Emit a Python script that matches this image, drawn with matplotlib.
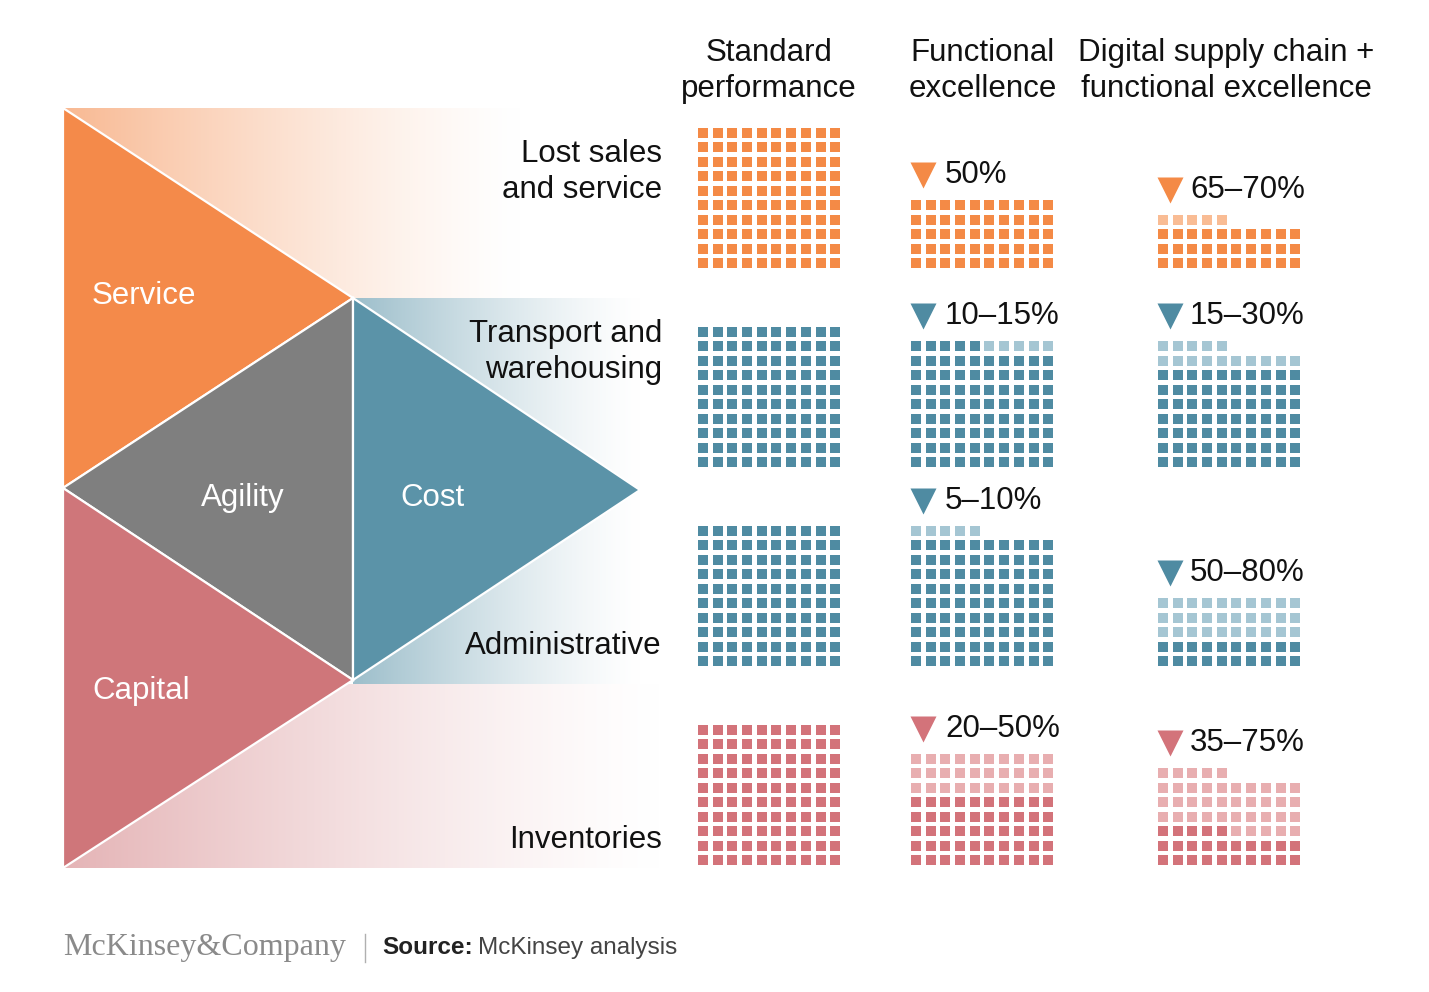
import numpy as np
import matplotlib
matplotlib.use("Agg")
import matplotlib.pyplot as plt
from matplotlib.patches import Polygon, Rectangle
from matplotlib.colors import to_rgb

# ---------------- data ----------------
categories = ["Lost sales\nand service", "Transport and\nwarehousing", "Administrative", "Inventories"]
column_headers = ["Standard\nperformance", "Functional\nexcellence", "Digital supply chain +\nfunctional excellence"]
standard_cells = [100, 100, 100, 100]
functional_low = [50, 10, 5, 20]     # reduction, % (low end)
functional_high = [50, 15, 10, 50]   # reduction, % (high end)
digital_low = [65, 15, 50, 35]
digital_high = [70, 30, 80, 75]
functional_labels = ["50%", "10–15%", "5–10%", "20–50%"]
digital_labels = ["65–70%", "15–30%", "50–80%", "35–75%"]
dimensions = ["Service", "Agility", "Cost", "Capital"]

# ---------------- style ----------------
ORANGE = "#F48A46"; ORANGE_L = "#F9BC94"
BLUE = "#4F8BA2"; BLUE_L = "#A5C6D3"
PINK = "#D3737A"; PINK_L = "#E8AEB0"
TRI_ORANGE = "#F48A4A"; TRI_GREY = "#7F7F7F"; TRI_BLUE = "#5B93A8"; TRI_PINK = "#CF767A"
row_dark = [ORANGE, BLUE, BLUE, PINK]
row_light = [ORANGE_L, BLUE_L, BLUE_L, PINK_L]
FONT = "Liberation Sans"
FS = 22.5
DY = 3  # small vertical nudge for centred text

W, H = 1429, 992
fig = plt.figure(figsize=(W / 100, H / 100), dpi=100)
ax = fig.add_axes([0, 0, 1, 1])
ax.set_xlim(0, W)
ax.set_ylim(H, 0)
ax.axis("off")

# ---------------- gradients (opaque blend towards white) ----------------
def gradient(x0, x1, y0, y1, color, a0=0.6, power=1.3):
    n = 512
    rgb = np.array(to_rgb(color))
    t = np.linspace(0, 1, n)
    a = a0 * (1 - t) ** power
    cols = 1 - a[:, None] * (1 - rgb[None, :])
    arr = np.repeat(cols[None, :, :], 2, axis=0)
    ax.imshow(arr, extent=(x0, x1, y1, y0), aspect="auto", interpolation="bilinear", zorder=1)

gradient(63, 520, 108, 298, TRI_ORANGE, 0.6)
gradient(353, 640, 298, 490, TRI_BLUE, 0.6)
gradient(353, 640, 490, 684, TRI_BLUE, 0.6)
gradient(63, 660, 684, 868, TRI_PINK, 0.55)

# ---------------- triangles ----------------
tris = [
    ([(63, 108), (353, 298), (63, 488)], TRI_ORANGE),
    ([(63, 488), (353, 298), (353, 680)], TRI_GREY),
    ([(353, 298), (640, 490), (353, 680)], TRI_BLUE),
    ([(63, 488), (353, 680), (63, 868)], TRI_PINK),
]
for pts, c in tris:
    ax.add_patch(Polygon(pts, closed=True, facecolor=c, edgecolor="white", lw=1.6, zorder=2))

dim_pos = [(92, 293, "left"), (243, 495, "center"), (400, 495, "left"), (92, 688, "left")]
for name, (x, y, ha) in zip(dimensions, dim_pos):
    ax.text(x, y + DY, name, color="white", fontsize=FS, family=FONT, ha=ha, va="center", zorder=3)

# ---------------- headers & row labels ----------------
header_x = [769, 983, 1226]
for hx, t in zip(header_x, column_headers):
    ax.text(hx, 68 + DY, t, fontsize=FS, family=FONT, ha="center", va="center", color="#111111",
            linespacing=1.3)

label_y = [169, 349, 643, 837]
for ly, t in zip(label_y, categories):
    ax.text(662, ly + DY, t, fontsize=FS, family=FONT, ha="right", va="center", color="#111111",
            linespacing=1.3, zorder=3)

# ---------------- waffles ----------------
grid_left = [698, 911, 1158]
grid_bottom = [268, 467, 666, 865]
PX, PY, S = 14.7, 14.45, 10

def waffle(left, bottom, dark, total, dc, lc):
    for i in range(total):
        r, c = divmod(i, 10)
        x = left + c * PX
        yb = bottom - r * PY
        ax.add_patch(Rectangle((x, yb - S), S, S, facecolor=dc if i < dark else lc,
                               edgecolor="none", zorder=3))
    nrows = (total + 9) // 10
    return bottom - (nrows - 1) * PY - S   # top of grid

def label(left, top, text, color, tx):
    yc = top - 25
    ax.plot([left + 12], [yc], marker="v", ms=18.5, color=color, mec="none", zorder=4)
    ax.text(left + tx, yc, text, fontsize=FS, family=FONT, ha="left", va="center",
            color="#111111", zorder=4)

for k in range(4):
    waffle(grid_left[0], grid_bottom[k], standard_cells[k], standard_cells[k], row_dark[k], row_light[k])
    top = waffle(grid_left[1], grid_bottom[k], 100 - functional_high[k], 100 - functional_low[k],
                 row_dark[k], row_light[k])
    label(grid_left[1], top, functional_labels[k], row_dark[k], 34)
    top = waffle(grid_left[2], grid_bottom[k], 100 - digital_high[k], 100 - digital_low[k],
                 row_dark[k], row_light[k])
    label(grid_left[2], top, digital_labels[k], row_dark[k], 32)

# ---------------- footer ----------------
ax.text(63, 947, "McKinsey&Company", fontsize=23, family="Liberation Serif", color="#8a8a8a",
        ha="left", va="center")
ax.plot([365, 365], [934, 962], color="#b0b0b0", lw=1)
src = ax.text(382, 948, "Source:", fontsize=17.5, family=FONT, weight="bold", color="#222222",
              ha="left", va="center")
ax.annotate("McKinsey analysis", xy=(1, 0.5), xycoords=src, xytext=(4, 0),
            textcoords="offset points", fontsize=17.5, family=FONT, color="#444444",
            ha="left", va="center")

fig.savefig("out.png", dpi=100, facecolor="white")
